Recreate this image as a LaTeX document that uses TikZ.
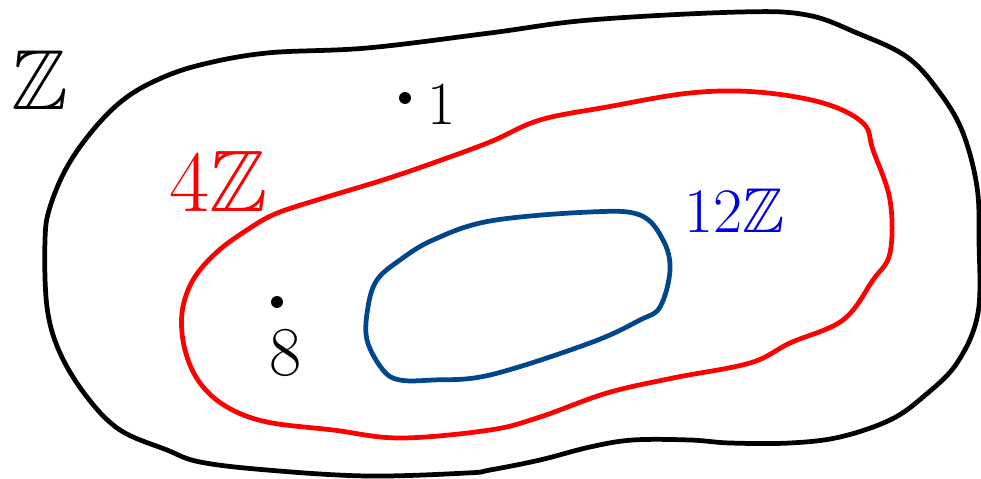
\documentclass[tikz,border=0pt]{standalone}
\usepackage{amssymb}
\definecolor{deepblue}{RGB}{0,70,140}
\definecolor{labelblue}{RGB}{0,0,230}
\tikzset{blob/.style={line width=2.7pt, line join=round, line cap=round, smooth cycle, tension=0.6},
	lbl/.style={inner sep=0pt, font=\Huge}}
\begin{document}
\begin{tikzpicture}[x=0.02cm, y=-0.02cm]
	\useasboundingbox (0,0) rectangle (981,479);
	% the three sets
	\draw[blob] plot coordinates {(45,240) (50,207) (67,167) (93,130) (123,100) (157,80) (200,65) (267,53) (367,48) (490,33) (590,20) (740,12) (807,15) (857,33) (907,57) (940,93) (963,133) (977,187) (979,240) (978,313) (957,363) (923,397) (890,420) (840,437) (790,443) (730,443) (690,440) (633,440) (590,447) (540,460) (490,470) (467,473) (367,476) (267,470) (200,462) (167,450) (120,430) (87,397) (60,353) (47,307)};
	\draw[blob, red] plot coordinates {(247,230) (275,214) (317,200) (383,180) (433,163) (490,142) (540,120) (607,107) (690,93) (757,92) (823,103) (863,123) (873,150) (890,200) (890,253) (873,280) (843,320) (790,343) (750,363) (673,378) (607,393) (540,417) (490,430) (400,438) (333,430) (267,422) (227,407) (200,383) (185,350) (182,313) (193,280) (217,252)};
	\draw[blob, deepblue] plot coordinates {(433,240) (490,221) (590,212) (640,215) (663,240) (670,270) (660,307) (640,320) (590,343) (490,375) (433,380) (400,380) (383,370) (367,340) (368,307) (377,280) (400,260)};
	% labels
	\node[lbl, scale=1.95] (zz) at (40,80) {$\mathbb{Z}$};
	\node[lbl, scale=2, red] (four) at (219,181) {$4\mathbb{Z}$};
	\node[lbl, scale=1.45, labelblue] (twelve) at (735,211) {$12\mathbb{Z}$};
	% elements
	\fill (405,98) circle (3.4pt);
	\node[lbl, scale=1.4] (one) at (442,105) {$1$};
	\fill (277,302) circle (3.4pt);
	\node[lbl, scale=1.6] (eight) at (286,353) {$8$};
\end{tikzpicture}
\end{document}
